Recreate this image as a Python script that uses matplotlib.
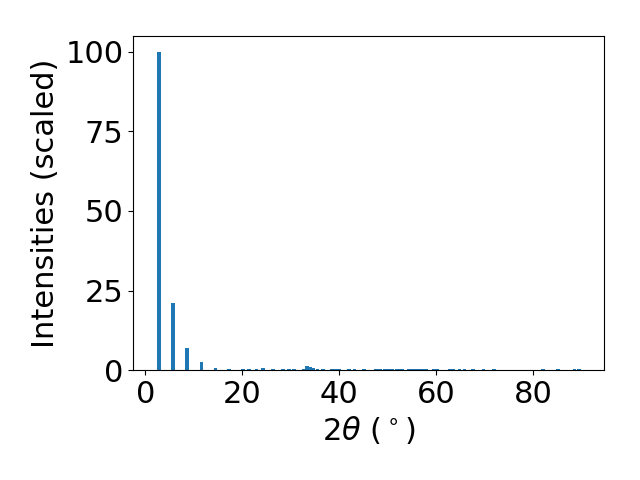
import matplotlib
matplotlib.use("Agg")
import matplotlib.pyplot as plt

# peak positions (2theta, deg) and scaled intensities
two_theta = [2.87, 5.74, 8.6, 11.6, 14.5, 17.3, 20.2, 21.4, 22.9, 24.3, 26.4,
             28.4, 29.6, 30.7, 32.6, 33.4, 34.0, 34.6, 35.5, 36.6, 38.5, 39.2,
             39.9, 42.0, 43.1, 45.1, 47.6, 48.4, 49.4, 50.2, 51.0, 51.8, 52.3,
             53.0, 54.3, 55.0, 55.7, 56.4, 57.3, 57.9, 59.4, 60.2, 62.7, 63.5,
             64.8, 65.8, 67.6, 69.7, 71.9, 82.0, 85.1, 88.5, 89.4]
intensity = [100, 21, 6.8, 2.5, 0.8, 0.35, 0.4, 0.4, 0.4, 0.6, 0.4,
             0.4, 0.4, 0.4, 0.4, 1.3, 0.9, 0.6, 0.35, 0.35, 0.35, 0.35,
             0.35, 0.35, 0.35, 0.35, 0.35, 0.35, 0.35, 0.35, 0.35, 0.35, 0.35,
             0.35, 0.35, 0.35, 0.35, 0.35, 0.35, 0.35, 0.35, 0.35, 0.35, 0.35,
             0.35, 0.35, 0.35, 0.35, 0.35, 0.35, 0.35, 0.35, 0.35]

fig, ax = plt.subplots(figsize=(6.4, 4.8), dpi=100)
ax.bar(two_theta, intensity, width=0.75, color="#1f77b4")
ax.set_xlim(-2.5, 94.6)
ax.set_ylim(0, 105)
ax.set_yticks([0, 25, 50, 75, 100])
ax.set_xticks([0, 20, 40, 60, 80])
ax.tick_params(labelsize=22)
ax.set_xlabel(r"2$\theta$ ($^\circ$)", fontsize=22)
ax.set_ylabel("Intensities (scaled)", fontsize=22)
fig.subplots_adjust(left=0.208, right=0.944, top=0.925, bottom=0.229)
fig.savefig("out.png")
